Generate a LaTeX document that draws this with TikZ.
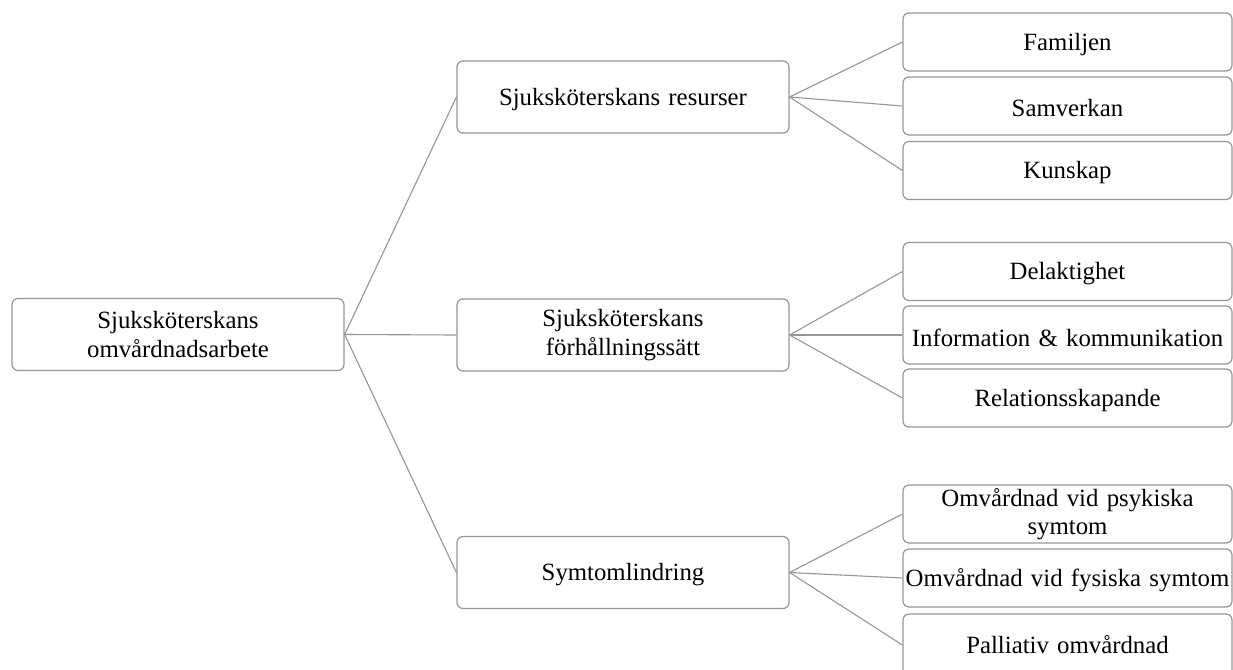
\documentclass[tikz,border=0pt]{standalone}
\usepackage{fontspec}
\setmainfont{Liberation Serif}
\definecolor{edgegray}{RGB}{150,150,150}
\newcommand{\lowr}[1]{\raisebox{-2.5pt}[\height][\depth]{#1}}
\begin{document}
\begin{tikzpicture}[x=1pt,y=-1pt,
  box/.style={draw=edgegray, line width=1.2pt, rounded corners=6pt, fill=white,
    align=center, inner sep=2pt, font=\fontsize{24.8}{28.5}\selectfont},
  bigbox/.style={box, minimum width=332pt, minimum height=72pt, text width=320pt},
  smallbox/.style={box, minimum width=329pt, minimum height=58pt, text width=325pt},
  link/.style={draw=edgegray, line width=1.1pt}]
\clip (0,0) rectangle (1233,669);
\fill[white] (0,0) rectangle (1233,669);
\node[bigbox] (root) at (178,334.5) {Sjuksköterskans\\omvårdnadsarbete};
\node[bigbox] (m1) at (623,97) {\lowr{Sjuksköterskans resurser}};
\node[bigbox] (m2) at (623,335) {Sjuksköterskans\\förhållningssätt};
\node[bigbox] (m3) at (623,572.5) {\lowr{Symtomlindring}};
\node[smallbox] (r1) at (1067.5,42) {\lowr{Familjen}};
\node[smallbox] (r2) at (1067.5,106) {\lowr{Samverkan}};
\node[smallbox] (r3) at (1067.5,170.5) {\lowr{Kunskap}};
\node[smallbox] (r4) at (1067.5,271.5) {\lowr{Delaktighet}};
\node[smallbox] (r5) at (1067.5,335) {\lowr{Information \& kommunikation}};
\node[smallbox] (r6) at (1067.5,398) {\lowr{Relationsskapande}};
\node[smallbox] (r7) at (1067.5,514) {Omvårdnad vid psykiska\\symtom};
\node[smallbox] (r8) at (1067.5,578) {\lowr{Omvårdnad vid fysiska symtom}};
\node[smallbox, minimum height=62pt] (r9) at (1067.5,645) {Palliativ omvårdnad};
\foreach \m in {m1,m2,m3} \draw[link] (root.east) -- (\m.west);
\foreach \r in {r1,r2,r3} \draw[link] (m1.east) -- (\r.west);
\foreach \r in {r4,r5,r6} \draw[link] (m2.east) -- (\r.west);
\foreach \r in {r7,r8,r9} \draw[link] (m3.east) -- (\r.west);
\end{tikzpicture}
\end{document}
